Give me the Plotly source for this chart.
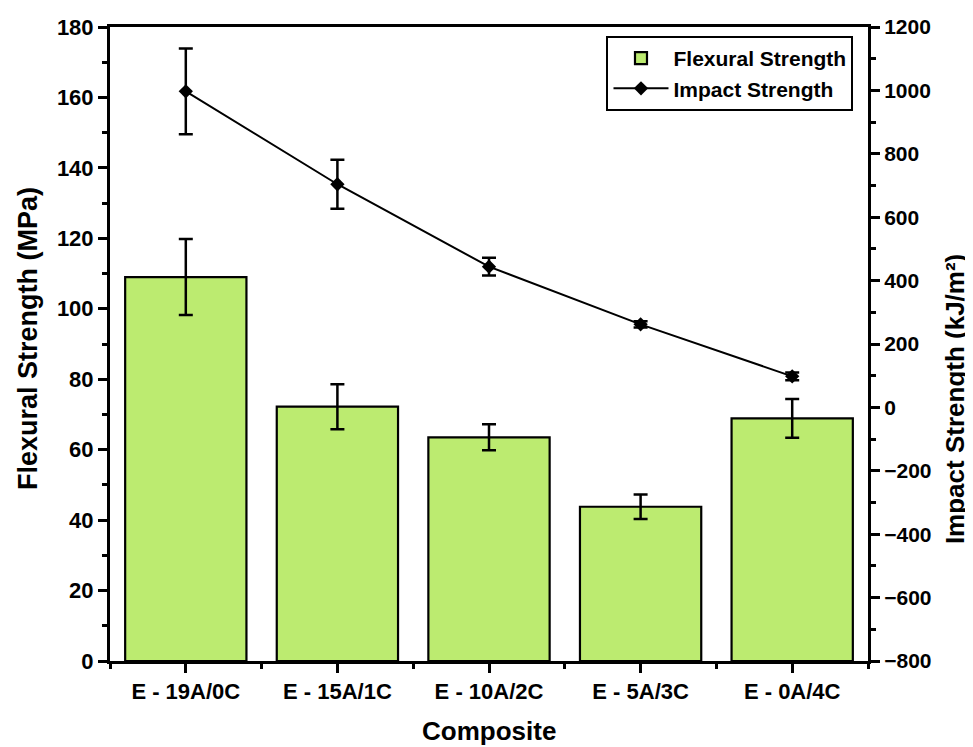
import plotly.graph_objects as go

categories = ["E - 19A/0C", "E - 15A/1C", "E - 10A/2C", "E - 5A/3C", "E - 0A/4C"]
flexural = [109.0, 72.2, 63.5, 43.8, 68.9]
flexural_err = [10.8, 6.4, 3.7, 3.5, 5.5]
impact = [997, 704, 444, 262, 98]
impact_err = [135, 77, 28, 10, 12]

xpos = list(range(len(categories)))
FONT = "Liberation Sans, Arial, sans-serif"

fig = go.Figure()
fig.add_trace(go.Bar(
    x=xpos, y=flexural, width=0.8, name="Flexural Strength",
    marker=dict(color="#BCEB70", line=dict(color="black", width=2.2)),
    error_y=dict(type="data", array=flexural_err, color="black", thickness=2.5, width=7),
    yaxis="y",
))
fig.add_trace(go.Scatter(
    x=xpos, y=impact, name="Impact Strength", mode="lines+markers",
    line=dict(color="black", width=2),
    marker=dict(symbol="diamond", size=11, color="black"),
    error_y=dict(type="data", array=impact_err, color="black", thickness=2.5, width=7),
    yaxis="y2",
))

tick_common = dict(showline=True, linecolor="black", linewidth=3,
                   ticks="outside", ticklen=9, tickwidth=2.5, tickcolor="black",
                   showgrid=False, zeroline=False, automargin=False)

fig.update_layout(
    width=965, height=739,
    margin=dict(l=102, r=105, t=19, b=86, autoexpand=False),
    plot_bgcolor="white", paper_bgcolor="white",
    font=dict(family=FONT, color="black"),
    showlegend=True,
    legend=dict(
        x=0.655, y=0.986, xanchor="left", yanchor="top",
        bordercolor="black", borderwidth=2, bgcolor="white",
        font=dict(family=FONT, size=21, weight="bold"),
        tracegroupgap=0, itemwidth=55,
    ),
    xaxis=dict(
        range=[-0.5, 4.5], tickmode="array", tickvals=xpos, ticktext=categories,
        mirror=True,
        minor=dict(tickmode="array", tickvals=[-0.5, 0.5, 1.5, 2.5, 3.5, 4.5],
                   ticks="outside", ticklen=5, tickwidth=2.5, tickcolor="black"),
        tickfont=dict(family=FONT, size=22, weight="bold"),
        **tick_common,
    ),
    yaxis=dict(
        range=[0, 180], dtick=20, tick0=0,
        minor=dict(dtick=10, ticks="outside", ticklen=5, tickwidth=2.5, tickcolor="black"),
        tickfont=dict(family=FONT, size=22, weight="bold"),
        **tick_common,
    ),
    yaxis2=dict(
        range=[-800, 1200], dtick=200, tick0=0, overlaying="y", side="right",
        minor=dict(dtick=100, ticks="outside", ticklen=5, tickwidth=2.5, tickcolor="black"),
        tickfont=dict(family=FONT, size=21, weight="bold"),
        **tick_common,
    ),
    annotations=[
        dict(text="Flexural Strength (MPa)", xref="paper", yref="paper",
             x=-0.108, y=0.508, xanchor="center", yanchor="middle",
             textangle=-90, showarrow=False,
             font=dict(family=FONT, size=27, weight="bold")),
        dict(text="Impact Strength (kJ/m²)", xref="paper", yref="paper",
             x=1.1147, y=0.413, xanchor="center", yanchor="middle",
             textangle=-90, showarrow=False,
             font=dict(family=FONT, size=26, weight="bold")),
        dict(text="Composite", xref="paper", yref="paper",
             x=0.5, y=-0.1104, xanchor="center", yanchor="middle", showarrow=False,
             font=dict(family=FONT, size=26, weight="bold")),
    ],
)

fig.write_html("out.html")
